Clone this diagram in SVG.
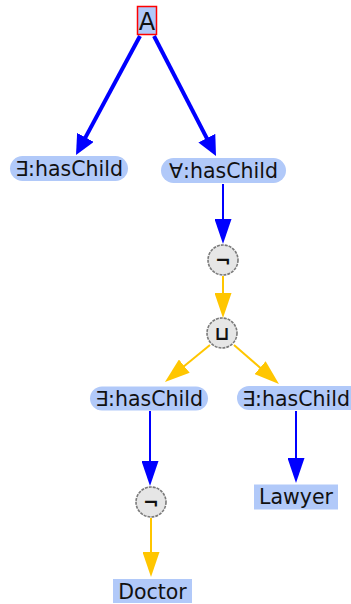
<svg xmlns="http://www.w3.org/2000/svg" width="351" height="604" viewBox="0 0 351 604">
<style>
.pill{fill:#b1c9f9;}
.box{fill:#b1c9f9;}
.op{fill:#e6e6e6;stroke:#7a7a7a;stroke-width:1.6;stroke-dasharray:3,1;}
.t{font-family:"DejaVu Sans",sans-serif;font-size:20.5px;fill:#111;text-anchor:middle;}
.o{font-family:"DejaVu Sans",sans-serif;font-size:19px;font-weight:bold;fill:#111;text-anchor:middle;}
.eb{stroke:#0000ff;stroke-width:4;fill:none;}
.es{stroke:#0000ff;stroke-width:2;fill:none;}
.ey{stroke:#ffc600;stroke-width:2;fill:none;}
</style>
<defs>
<marker id="ab" markerUnits="userSpaceOnUse" markerWidth="20" markerHeight="19" refX="8" refY="9.5" orient="auto"><path d="M0,0 L20,9.5 L0,19 Z" fill="#0000ff"/></marker>
<marker id="as" markerUnits="userSpaceOnUse" markerWidth="25" markerHeight="17" refX="15" refY="8.5" orient="auto"><path d="M0,0 L25,8.5 L0,17 Z" fill="#0000ff"/></marker>
<marker id="ay" markerUnits="userSpaceOnUse" markerWidth="25" markerHeight="17" refX="15" refY="8.5" orient="auto"><path d="M0,0 L25,8.5 L0,17 Z" fill="#ffc600"/></marker>
</defs>
<g id="connectors">
<line class="eb" x1="140" y1="36" x2="81.7" y2="144.4" marker-end="url(#ab)"/>
<line class="eb" x1="154" y1="36" x2="210.5" y2="145.3" marker-end="url(#ab)"/>
<line class="es" x1="223" y1="184" x2="223" y2="234" marker-end="url(#as)"/>
<line class="ey" x1="223" y1="276" x2="223" y2="308" marker-end="url(#ay)"/>
<line class="ey" x1="210" y1="345" x2="172.7" y2="375.6" marker-end="url(#ay)"/>
<line class="ey" x1="234" y1="345" x2="271.4" y2="377.4" marker-end="url(#ay)"/>
<line class="es" x1="150" y1="411" x2="150" y2="476" marker-end="url(#as)"/>
<line class="ey" x1="151" y1="518" x2="151" y2="567" marker-end="url(#ay)"/>
<line class="es" x1="296" y1="411" x2="296" y2="473" marker-end="url(#as)"/>
</g>
<g id="nA">
<rect x="137.5" y="6.5" width="19" height="28" fill="#b1c9f9" stroke="#ff0000" stroke-width="1.5"/>
<text class="t" x="147" y="30" style="font-size:24px">A</text>
</g>
<g id="nExists1">
<rect class="pill" x="10" y="156" width="118" height="25" rx="12.5"/>
<text class="t" x="69" y="176">∃:hasChild</text>
</g>
<g id="nForall">
<rect class="pill" x="161" y="158" width="125" height="25" rx="12.5"/>
<text class="t" x="223.5" y="178">∀:hasChild</text>
</g>
<g id="nNot1">
<circle class="op" cx="223" cy="260" r="15"/>
<text class="o" x="223" y="267">¬</text>
</g>
<g id="nOr">
<circle class="op" cx="222" cy="333" r="15"/>
<text class="o" x="222" y="340">⊔</text>
</g>
<g id="nExists2">
<rect class="pill" x="90" y="386.5" width="118" height="24" rx="12"/>
<text class="t" x="149" y="406">∃:hasChild</text>
</g>
<g id="nExists3">
<rect class="pill" x="237" y="386" width="126" height="24" rx="12"/>
<text class="t" x="296" y="406">∃:hasChild</text>
</g>
<g id="nNot2">
<circle class="op" cx="151" cy="502" r="15"/>
<text class="o" x="151" y="509">¬</text>
</g>
<g id="nLawyer">
<rect class="box" x="254" y="484.5" width="84" height="25"/>
<text class="t" x="296" y="504">Lawyer</text>
</g>
<g id="nDoctor">
<rect class="box" x="113" y="579" width="79" height="24"/>
<text class="t" x="152.5" y="598.5">Doctor</text>
</g>
</svg>
